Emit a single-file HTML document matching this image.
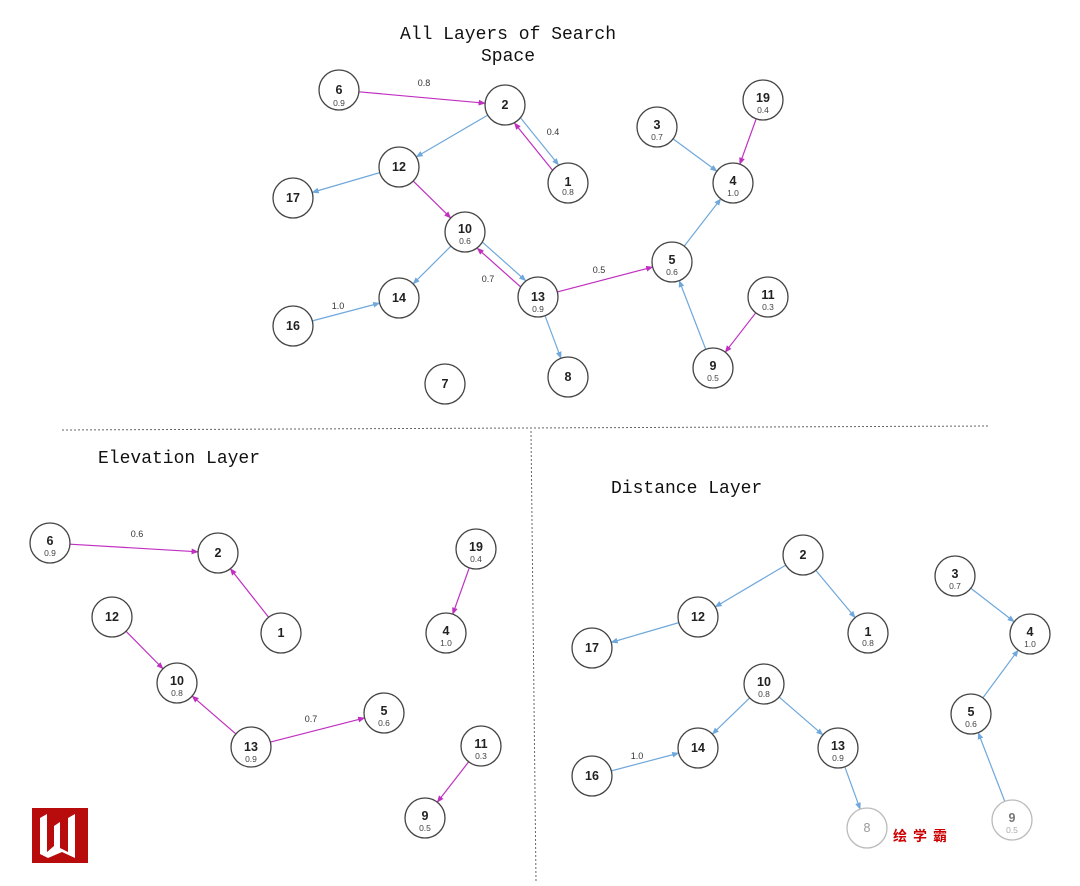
<!DOCTYPE html>
<html><head><meta charset="utf-8"><style>
html,body{margin:0;padding:0;background:#fff;}
svg{display:block}
.n{fill:#fff;stroke:#444;stroke-width:1.3}
.f{stroke:#bbb}
.t{font-family:"Liberation Sans",sans-serif;font-weight:bold;font-size:12.5px;fill:#222;text-anchor:middle}
.v{font-family:"Liberation Sans",sans-serif;font-size:8.5px;fill:#444;text-anchor:middle}
.l{font-family:"Liberation Sans",sans-serif;font-size:9px;fill:#333;text-anchor:middle}
.h{font-family:"Liberation Mono",monospace;font-size:18px;fill:#111}
</style></head><body>
<svg id="s" width="1080" height="886" viewBox="0 0 1080 886" xmlns="http://www.w3.org/2000/svg">
<defs>
<marker id="ab" viewBox="0 0 10 10" refX="9" refY="5" markerWidth="6" markerHeight="6" orient="auto"><path d="M0,1 L10,5 L0,9 z" fill="#6fa8dc"/></marker>
<marker id="ap" viewBox="0 0 10 10" refX="9" refY="5" markerWidth="6" markerHeight="6" orient="auto"><path d="M0,1 L10,5 L0,9 z" fill="#c030c0"/></marker>
</defs>
<g id="edges"></g>
<line x1="62" y1="430" x2="990" y2="426" stroke="#666" stroke-dasharray="2,2" stroke-width="1"/>
<line x1="531" y1="431" x2="536" y2="882" stroke="#666" stroke-dasharray="2,2" stroke-width="1"/>
<text class="h" x="508" y="39" text-anchor="middle">All Layers of Search</text>
<text class="h" x="508" y="61" text-anchor="middle">Space</text>
<text class="h" x="98" y="463">Elevation Layer</text>
<text class="h" x="611" y="493">Distance Layer</text>

<!-- edge labels -->
<text class="l" x="424" y="86">0.8</text>
<text class="l" x="553" y="135">0.4</text>
<text class="l" x="488" y="282">0.7</text>
<text class="l" x="599" y="273">0.5</text>
<text class="l" x="338" y="309">1.0</text>
<text class="l" x="137" y="537">0.6</text>
<text class="l" x="311" y="722">0.7</text>
<text class="l" x="637" y="759">1.0</text>

<g id="nodes">
<!-- top -->
<circle class="n" cx="339" cy="90" r="20"/><text class="t" x="339" y="94">6</text><text class="v" x="339" y="106">0.9</text>
<circle class="n" cx="505" cy="105" r="20"/><text class="t" x="505" y="109">2</text>
<circle class="n" cx="568" cy="183" r="20"/><text class="t" x="568" y="186">1</text><text class="v" x="568" y="195">0.8</text>
<circle class="n" cx="399" cy="167" r="20"/><text class="t" x="399" y="171">12</text>
<circle class="n" cx="293" cy="198" r="20"/><text class="t" x="293" y="202">17</text>
<circle class="n" cx="465" cy="232" r="20"/><text class="t" x="465" y="233">10</text><text class="v" x="465" y="244">0.6</text>
<circle class="n" cx="399" cy="298" r="20"/><text class="t" x="399" y="302">14</text>
<circle class="n" cx="293" cy="326" r="20"/><text class="t" x="293" y="330">16</text>
<circle class="n" cx="538" cy="297" r="20"/><text class="t" x="538" y="301">13</text><text class="v" x="538" y="312">0.9</text>
<circle class="n" cx="568" cy="377" r="20"/><text class="t" x="568" y="381">8</text>
<circle class="n" cx="445" cy="384" r="20"/><text class="t" x="445" y="388">7</text>
<circle class="n" cx="672" cy="262" r="20"/><text class="t" x="672" y="264">5</text><text class="v" x="672" y="275">0.6</text>
<circle class="n" cx="733" cy="183" r="20"/><text class="t" x="733" y="185">4</text><text class="v" x="733" y="196">1.0</text>
<circle class="n" cx="657" cy="127" r="20"/><text class="t" x="657" y="129">3</text><text class="v" x="657" y="140">0.7</text>
<circle class="n" cx="763" cy="100" r="20"/><text class="t" x="763" y="102">19</text><text class="v" x="763" y="113">0.4</text>
<circle class="n" cx="768" cy="297" r="20"/><text class="t" x="768" y="299">11</text><text class="v" x="768" y="310">0.3</text>
<circle class="n" cx="713" cy="368" r="20"/><text class="t" x="713" y="370">9</text><text class="v" x="713" y="381">0.5</text>
<!-- elevation -->
<circle class="n" cx="50" cy="543" r="20"/><text class="t" x="50" y="545">6</text><text class="v" x="50" y="556">0.9</text>
<circle class="n" cx="218" cy="553" r="20"/><text class="t" x="218" y="557">2</text>
<circle class="n" cx="281" cy="633" r="20"/><text class="t" x="281" y="637">1</text>
<circle class="n" cx="112" cy="617" r="20"/><text class="t" x="112" y="621">12</text>
<circle class="n" cx="177" cy="683" r="20"/><text class="t" x="177" y="685">10</text><text class="v" x="177" y="696">0.8</text>
<circle class="n" cx="251" cy="747" r="20"/><text class="t" x="251" y="751">13</text><text class="v" x="251" y="762">0.9</text>
<circle class="n" cx="384" cy="713" r="20"/><text class="t" x="384" y="715">5</text><text class="v" x="384" y="726">0.6</text>
<circle class="n" cx="476" cy="549" r="20"/><text class="t" x="476" y="551">19</text><text class="v" x="476" y="562">0.4</text>
<circle class="n" cx="446" cy="633" r="20"/><text class="t" x="446" y="635">4</text><text class="v" x="446" y="646">1.0</text>
<circle class="n" cx="481" cy="746" r="20"/><text class="t" x="481" y="748">11</text><text class="v" x="481" y="759">0.3</text>
<circle class="n" cx="425" cy="818" r="20"/><text class="t" x="425" y="820">9</text><text class="v" x="425" y="831">0.5</text>
<!-- distance -->
<circle class="n" cx="803" cy="555" r="20"/><text class="t" x="803" y="559">2</text>
<circle class="n" cx="698" cy="617" r="20"/><text class="t" x="698" y="621">12</text>
<circle class="n" cx="592" cy="648" r="20"/><text class="t" x="592" y="652">17</text>
<circle class="n" cx="868" cy="633" r="20"/><text class="t" x="868" y="636">1</text><text class="v" x="868" y="646">0.8</text>
<circle class="n" cx="764" cy="684" r="20"/><text class="t" x="764" y="686">10</text><text class="v" x="764" y="697">0.8</text>
<circle class="n" cx="698" cy="748" r="20"/><text class="t" x="698" y="752">14</text>
<circle class="n" cx="592" cy="776" r="20"/><text class="t" x="592" y="780">16</text>
<circle class="n" cx="838" cy="748" r="20"/><text class="t" x="838" y="750">13</text><text class="v" x="838" y="761">0.9</text>
<circle class="n f" cx="867" cy="828" r="20"/><text class="t" x="867" y="832" style="fill:#999;font-weight:normal">8</text>
<circle class="n" cx="955" cy="576" r="20"/><text class="t" x="955" y="578">3</text><text class="v" x="955" y="589">0.7</text>
<circle class="n" cx="1030" cy="634" r="20"/><text class="t" x="1030" y="636">4</text><text class="v" x="1030" y="647">1.0</text>
<circle class="n" cx="971" cy="714" r="20"/><text class="t" x="971" y="716">5</text><text class="v" x="971" y="727">0.6</text>
<circle class="n f" cx="1012" cy="820" r="20"/><text class="t" x="1012" y="822" style="fill:#777">9</text><text class="v" x="1012" y="833" style="fill:#aaa">0.5</text>
</g>

<!-- logo -->
<rect x="32" y="808" width="56" height="55" fill="#b80c0c"/>
<path d="M40,818 L47,814 L47,852 L54,846 L54,826 L60,822 L60,848 L68,852 L68,818 L75,814 L75,858 L62,852 L48,858 L40,854 Z" fill="#fff"/>
<text x="893" y="841" style="font-family:'Liberation Sans','Noto Sans CJK SC',sans-serif;font-weight:bold;font-size:14px;fill:#c00;letter-spacing:6px">绘学霸</text>
</svg>
<script>
var P={
t6:[339,90],t2:[505,105],t1:[568,183],t12:[399,167],t17:[293,198],t10:[465,232],t14:[399,298],t16:[293,326],t13:[538,297],t8:[568,377],t5:[672,262],t4:[733,183],t3:[657,127],t19:[763,100],t11:[768,297],t9:[713,368],
e6:[50,543],e2:[218,553],e1:[281,633],e12:[112,617],e10:[177,683],e13:[251,747],e5:[384,713],e19:[476,549],e4:[446,633],e11:[481,746],e9:[425,818],
d2:[803,555],d12:[698,617],d17:[592,648],d1:[868,633],d10:[764,684],d14:[698,748],d16:[592,776],d13:[838,748],d8:[867,828],d3:[955,576],d4:[1030,634],d5:[971,714],d9:[1012,820]};
var E=[
['t6','t2','p',0],['t2','t12','b',0],['t2','t1','b',-4],['t1','t2','p',-4],['t12','t17','b',0],['t12','t10','p',0],['t10','t14','b',0],['t16','t14','b',0],['t10','t13','b',-4],['t13','t10','p',-4],['t13','t5','p',0],['t13','t8','b',0],['t5','t4','b',0],['t3','t4','b',0],['t19','t4','p',0],['t9','t5','b',0],['t11','t9','p',0],
['e6','e2','p',0],['e1','e2','p',0],['e12','e10','p',0],['e13','e10','p',0],['e13','e5','p',0],['e19','e4','p',0],['e11','e9','p',0],
['d2','d12','b',0],['d2','d1','b',0],['d12','d17','b',0],['d10','d14','b',0],['d10','d13','b',0],['d16','d14','b',0],['d13','d8','b',0],['d3','d4','b',0],['d5','d4','b',0],['d9','d5','b',0]];
var g=document.getElementById('edges'),s='';
E.forEach(function(e){var a=P[e[0]],b=P[e[1]],dx=b[0]-a[0],dy=b[1]-a[1],L=Math.hypot(dx,dy),ux=dx/L,uy=dy/L,o=e[3],
nx=-uy*o,ny=ux*o;if(e[0]>e[1]){}
var x1=a[0]+ux*20+nx,y1=a[1]+uy*20+ny,x2=b[0]-ux*20+nx,y2=b[1]-uy*20+ny;
var c=e[2]=='p'?'#c030c0':'#6fa8dc';
s+='<line x1="'+x1+'" y1="'+y1+'" x2="'+x2+'" y2="'+y2+'" stroke="'+c+'" stroke-width="1.2" marker-end="url(#a'+e[2]+')"/>';});
g.innerHTML=s;
</script>
</body></html>
